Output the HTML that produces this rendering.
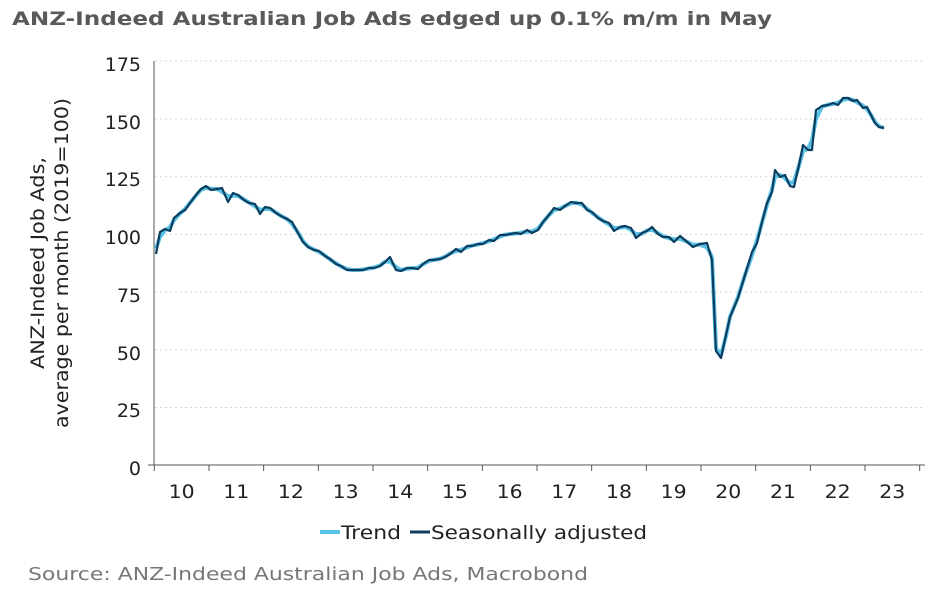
<!DOCTYPE html>
<html><head><meta charset="utf-8"><style>
body{margin:0;background:#fff;}
svg text{font-family:"DejaVu Sans","Liberation Sans",sans-serif;}
</style></head><body>
<svg id="s" width="950" height="595" xmlns="http://www.w3.org/2000/svg">
<text x="12" y="25" font-size="19" font-weight="bold" fill="#595959" textLength="760" lengthAdjust="spacingAndGlyphs">ANZ-Indeed Australian Job Ads edged up 0.1% m/m in May</text>
<g stroke="#d0d8dc" stroke-dasharray="2,3" stroke-width="1">
<line x1="155" x2="925" y1="61" y2="61"/><line x1="155" x2="925" y1="119" y2="119"/><line x1="155" x2="925" y1="176.7" y2="176.7"/><line x1="155" x2="925" y1="234.4" y2="234.4"/><line x1="155" x2="925" y1="292.1" y2="292.1"/><line x1="155" x2="925" y1="349.8" y2="349.8"/><line x1="155" x2="925" y1="407.5" y2="407.5"/>
</g>
<g stroke="#555" stroke-width="1">
<line x1="154" x2="154" y1="61" y2="465"/><line x1="154" x2="925" y1="465" y2="465"/>
<line x1="148" x2="154" y1="465" y2="465"/>
</g>
<g id="ticks" stroke="#555"></g>
<g font-size="19" fill="#222" text-anchor="end">
<text x="141" y="71">175</text><text x="141" y="129">150</text><text x="141" y="186">125</text><text x="141" y="244">100</text><text x="141" y="302">75</text><text x="141" y="360">50</text><text x="141" y="417">25</text><text x="141" y="475">0</text>
</g>
<g id="xl" font-size="19" fill="#222" text-anchor="middle"></g>
<text transform="translate(44,263) rotate(-90)" font-size="19" fill="#222" text-anchor="middle" textLength="212" lengthAdjust="spacingAndGlyphs">ANZ-Indeed Job Ads,</text>
<text transform="translate(68,263) rotate(-90)" font-size="19" fill="#222" text-anchor="middle" textLength="330" lengthAdjust="spacingAndGlyphs">average per month (2019=100)</text>
<polyline id="tr" fill="none" stroke="#5bc2e7" stroke-width="4" stroke-linejoin="round"/>
<polyline id="sa" fill="none" stroke="#0b3d5e" stroke-width="2.2" stroke-linejoin="round"/>
<line x1="320" x2="340" y1="532" y2="532" stroke="#5bc2e7" stroke-width="4"/>
<text x="341" y="539" font-size="19" fill="#222" textLength="60" lengthAdjust="spacingAndGlyphs">Trend</text>
<line x1="410" x2="430" y1="532" y2="532" stroke="#0b3d5e" stroke-width="3"/>
<text x="431" y="539" font-size="19" fill="#222" textLength="216" lengthAdjust="spacingAndGlyphs">Seasonally adjusted</text>
<text x="28" y="580" font-size="18" fill="#777" textLength="560" lengthAdjust="spacingAndGlyphs">Source: ANZ-Indeed Australian Job Ads, Macrobond</text>
</svg>
<script>
var NS="http://www.w3.org/2000/svg";
var tk=document.getElementById("ticks"),xl=document.getElementById("xl");
for(var i=0;i<=14;i++){var x=154.3+54.67*i;var l=document.createElementNS(NS,"line");l.setAttribute("x1",x);l.setAttribute("x2",x);l.setAttribute("y1",465);l.setAttribute("y2",471);tk.appendChild(l);
if(i<14){var t=document.createElementNS(NS,"text");t.setAttribute("x",x+27.3);t.setAttribute("y",498);t.setAttribute("textLength","26");t.setAttribute("lengthAdjust","spacingAndGlyphs");t.textContent=(10+i);xl.appendChild(t);}}
var p=[[156,254],[160,232],[165,229],[170,231],[174,218],[180,213],[185,210],[190,203],[196,195],[201,189],[206,186],[211,190],[217,189],[222,188],[228,202],[233,193],[238,195],[244,200],[249,203],[255,204],[260,214],[265,207],[270,208],[276,213],[281,216],[287,219],[292,222],[298,233],[303,242],[308,247],[314,250],[319,251],[325,256],[330,259],[336,264],[341,266],[347,270],[352,270],[358,270],[363,270],[369,268],[374,268],[380,266],[385,262],[390,257],[396,270],[401,271],[407,268],[412,268],[418,269],[423,264],[429,260],[434,260],[440,259],[445,257],[450,254],[456,249],[461,252],[467,246],[472,246],[478,244],[483,244],[489,240],[494,241],[500,235],[505,235],[510,234],[516,233],[521,234],[527,230],[532,233],[538,230],[543,222],[549,215],[554,208],[560,210],[565,206],[571,202],[576,203],[582,203],[587,210],[592,212],[598,218],[603,221],[609,223],[614,231],[620,227],[625,226],[631,228],[636,238],[642,233],[647,231],[652,227],[658,234],[663,237],[669,237],[674,242],[680,236],[686,241],[693,247],[700,244],[707,243],[712,260],[716,351],[721,358],[726,335],[730,317],[738,298],[745,275],[752,252],[757,243],[762,222],[767,203],[772,192],[775,170],[780,177],[785,175],[790,186],[794,187],[799,165],[803,145],[808,150],[812,150],[816,110],[822,106],[828,105],[833,103],[838,105],[843,98],[848,98],[853,101],[857,100],[863,108],[867,107],[871,115],[875,123],[879,127],[884,128]];
document.getElementById("sa").setAttribute("points",p.map(function(a){return a.join(",")}).join(" "));
var t=[];for(var i=0;i<p.length;i++){var a=Math.max(0,i-1),b=Math.min(p.length-1,i+1);var y=(p[a][1]+p[i][1]*2+p[b][1])/4;
if(p[i][0]>=710&&p[i][0]<=722)y=p[i][1]-3;t.push([p[i][0],y]);}
document.getElementById("tr").setAttribute("points",t.map(function(a){return a.join(",")}).join(" "));
</script>
</body></html>
